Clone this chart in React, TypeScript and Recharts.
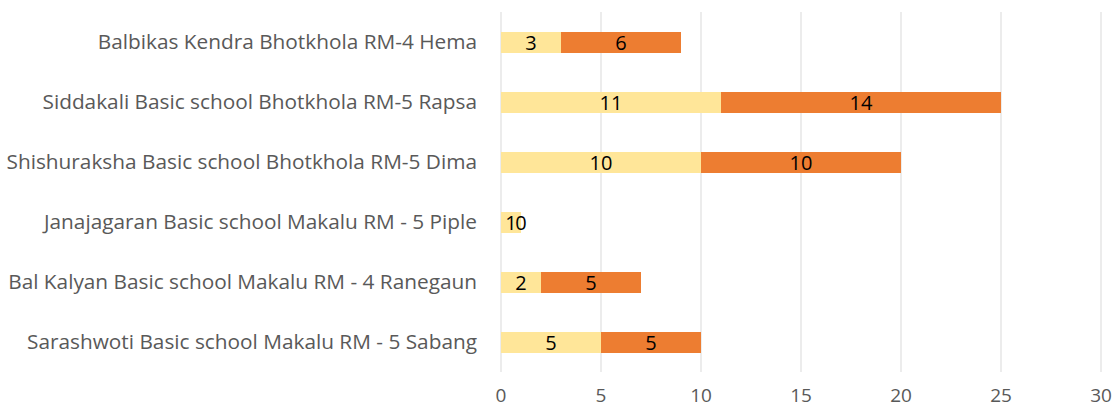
import { Bar, BarChart, CartesianGrid, LabelList, XAxis, YAxis } from "recharts";

// school names, top to bottom as they appear on the chart
const SCHOOLS = [
  "Balbikas Kendra Bhotkhola RM-4 Hema",
  "Siddakali Basic school Bhotkhola RM-5 Rapsa",
  "Shishuraksha Basic school Bhotkhola RM-5 Dima",
  "Janajagaran Basic school Makalu RM - 5 Piple",
  "Bal Kalyan Basic school Makalu RM - 4 Ranegaun",
  "Sarashwoti Basic school Makalu RM - 5 Sabang",
];
const FIRST = [3, 11, 10, 1, 2, 5];
const SECOND = [6, 14, 10, 0, 5, 5];
const X_TICKS = [0, 5, 10, 15, 20, 25, 30];

const YELLOW = "#FFE699";
const ORANGE = "#ED7D31";
const FONT = "'Open Sans', sans-serif";

const rows = SCHOOLS.map((name, i) => ({ name, a: FIRST[i], b: SECOND[i] }));

// draw the value even when the segment has zero width (Excel shows "0")
function ValueLabel(props: any) {
  const { x, y, width, height, value } = props;
  if (value == null) return null;
  return (
    <text
      x={Number(x) + Number(width) / 2}
      y={Number(y) + Number(height) / 2}
      dy="0.36em"
      textAnchor="middle"
      fill="#000"
      fontSize={20}
      fontFamily={FONT}
    >
      {value}
    </text>
  );
}

export default function App() {
  return (
    <div style={{ position: "absolute", left: 0, top: 0, fontFamily: FONT }}>
      <BarChart
        width={1113}
        height={411}
        layout="vertical"
        data={rows}
        barSize={21}
        margin={{ top: 12, right: 12, bottom: 0, left: 0 }}
      >
        <CartesianGrid horizontal={false} stroke="#D9D9D9" />
        <XAxis
          type="number"
          domain={[0, 30]}
          ticks={X_TICKS}
          interval={0}
          axisLine={false}
          tickLine={false}
          tickMargin={11}
          height={39}
          tick={{ fill: "#595959", fontSize: 19, fontFamily: FONT }}
        />
        <YAxis
          type="category"
          dataKey="name"
          width={501}
          interval={0}
          axisLine={false}
          tickLine={false}
          tickMargin={18}
          tick={{ fill: "#595959", fontSize: 20.8, fontFamily: FONT }}
        />
        <Bar dataKey="a" stackId="s" fill={YELLOW} isAnimationActive={false}>
          <LabelList dataKey="a" content={ValueLabel} />
        </Bar>
        <Bar dataKey="b" stackId="s" fill={ORANGE} minPointSize={0.01} isAnimationActive={false}>
          <LabelList dataKey="b" content={ValueLabel} />
        </Bar>
      </BarChart>
    </div>
  );
}
